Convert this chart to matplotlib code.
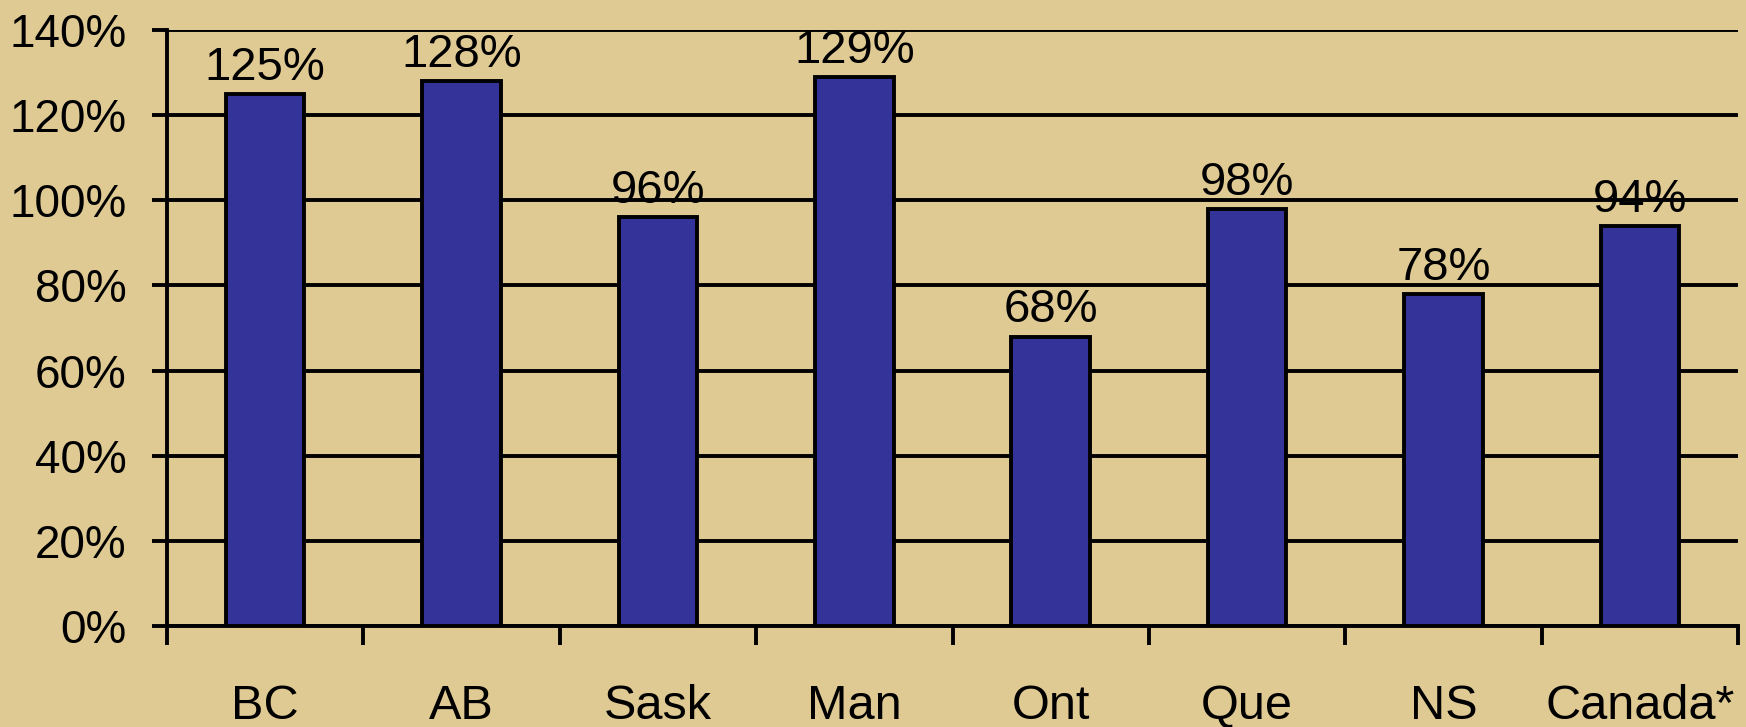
import matplotlib.pyplot as plt
import numpy as np
from matplotlib.ticker import FixedLocator, PercentFormatter

regions = ["BC", "AB", "Sask", "Man", "Ont", "Que", "NS", "Canada*"]
values = [125, 128, 96, 129, 68, 98, 78, 94]
yticks = [0, 20, 40, 60, 80, 100, 120, 140]

bg = "#dfca94"
bar_color = "#333399"

plt.rcParams['font.family'] = ['Liberation Sans', 'DejaVu Sans']

fig = plt.figure(figsize=(17.46, 7.27), dpi=100, facecolor=bg)
ax = fig.add_axes([167 / 1746, 1 - 626 / 727, (1738 - 167) / 1746, (626 - 30) / 727])
ax.set_facecolor(bg)

x = np.arange(len(regions))
ax.set_axisbelow(True)
ax.yaxis.grid(True, color="black", linewidth=2.8)
bars = ax.bar(x, values, width=0.4, color=bar_color, edgecolor="black", linewidth=2.8, zorder=3)

for xi, v in zip(x, values):
    ax.text(xi, v + 1.0, f"{v}%", ha="center", va="bottom", fontsize=34, zorder=4)

ax.set_xlim(-0.5, len(regions) - 0.5)
ax.set_ylim(0, 140)
ax.set_yticks(yticks)
ax.yaxis.set_major_formatter(PercentFormatter(decimals=0))
ax.tick_params(axis="y", labelsize=33, length=11, width=2.8, pad=18)

ax.set_xticks(x)
ax.set_xticklabels(regions)
ax.xaxis.set_minor_locator(FixedLocator(np.arange(-0.5, len(regions), 1.0)))
ax.tick_params(axis="x", which="major", length=0, labelsize=35, pad=42)
ax.tick_params(axis="x", which="minor", length=14, width=2.8, direction="out")

for side in ["top", "right"]:
    ax.spines[side].set_visible(False)
for side in ["left", "bottom"]:
    ax.spines[side].set_linewidth(2.8)

plt.savefig("out.png", dpi=100, facecolor=bg)
